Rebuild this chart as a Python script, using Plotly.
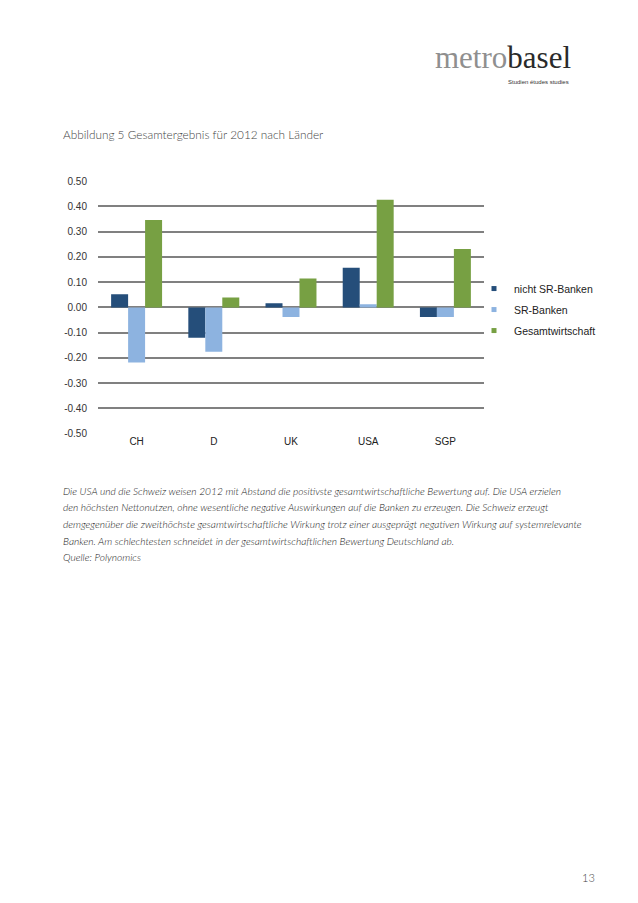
import plotly.graph_objects as go

categories = ["CH", "D", "UK", "USA", "SGP"]
nicht_sr = [0.052, -0.120, 0.017, 0.157, -0.038]
sr_banken = [-0.218, -0.175, -0.038, 0.013, -0.038]
gesamt = [0.346, 0.039, 0.114, 0.426, 0.231]
series_names = ["nicht SR-Banken", "SR-Banken", "Gesamtwirtschaft"]
colors = ["#254e7a", "#8db3e0", "#77a043"]
y_ticks = [0.5, 0.4, 0.3, 0.2, 0.1, 0.0, -0.1, -0.2, -0.3, -0.4, -0.5]

OFF = 8  # default body margin of the html page
W, H = 638 - OFF, 903 - OFF
def px(x):
    return (x - OFF) / W
def py(y):
    return 1 - (y - OFF) / H

fig = go.Figure()
for name, vals, c in zip(series_names, [nicht_sr, sr_banken, gesamt], colors):
    fig.add_trace(go.Bar(x=categories, y=vals, name=name, marker_color=c,
                         marker_line_width=0, showlegend=False))
# legend entries with small square symbols
for i, (name, c) in enumerate(zip(series_names, colors)):
    fig.add_trace(go.Scatter(x=[None], y=[None], mode="markers", name=name,
                             legendgroup=f"g{i}",
                             marker=dict(symbol="square", size=5, color=c)))

grid = "#808080"
fig.update_layout(
    width=W, height=H,
    margin=dict(l=0, r=0, t=0, b=0),
    paper_bgcolor="white", plot_bgcolor="white",
    barmode="group", bargap=0.34, bargroupgap=0,
    font=dict(family="Liberation Sans, Arial", size=10, color="#333333"),
    xaxis=dict(domain=[px(98), px(484)], showgrid=False, showline=False,
               zeroline=False, ticks="", tickfont=dict(size=10, color="#222222")),
    yaxis=dict(domain=[py(433.5), py(178)], range=[-0.5, 0.5],
               tickvals=y_ticks, ticktext=[f"{v:.2f}" for v in y_ticks],
               showgrid=True, gridcolor=grid, gridwidth=1.8,
               zeroline=True, zerolinecolor=grid, zerolinewidth=1.8,
               showline=False, ticks="", ticklabelstandoff=10,
               tickfont=dict(size=10, color="#333333")),
    legend=dict(x=px(474), y=py(272), xanchor="left", yanchor="top",
                font=dict(family="Liberation Sans, Arial", size=10.5, color="#222222"),
                tracegroupgap=2, itemwidth=30, bgcolor="rgba(0,0,0,0)"),
)

ann = []
# logo
ann.append(dict(x=px(573), y=py(73), xref="paper", yref="paper", xanchor="right", yanchor="bottom",
                text="<span style='color:#8f8f8f'>metro</span><span style='color:#2a2a2a'>basel</span>",
                showarrow=False, font=dict(family="Liberation Serif", size=31)))
ann.append(dict(x=px(571), y=py(78), xref="paper", yref="paper", xanchor="right", yanchor="middle",
                text="Studien études studies", showarrow=False,
                font=dict(family="Liberation Sans", size=6, color="#333333")))
# title
ann.append(dict(x=px(61), y=py(131), xref="paper", yref="paper", xanchor="left", yanchor="middle",
                text="Abbildung 5 Gesamtergebnis für 2012 nach Länder", showarrow=False,
                font=dict(family="Lato", size=11.8, color="#444444", weight=300)))
caption = [
    "Die USA und die Schweiz weisen 2012 mit Abstand die positivste gesamtwirtschaftliche Bewertung auf. Die USA erzielen",
    "den höchsten Nettonutzen, ohne wesentliche negative Auswirkungen auf die Banken zu erzeugen. Die Schweiz erzeugt",
    "demgegenüber die zweithöchste gesamtwirtschaftliche Wirkung trotz einer ausgeprägt negativen Wirkung auf systemrelevante",
    "Banken. Am schlechtesten schneidet in der gesamtwirtschaftlichen Bewertung Deutschland ab.",
    "Quelle: Polynomics",
]
cap_y = [491, 508, 525, 541.5, 558]
for t, yy in zip(caption, cap_y):
    ann.append(dict(x=px(61), y=py(yy), xref="paper", yref="paper", xanchor="left", yanchor="middle",
                    text=f"<i>{t}</i>", showarrow=False,
                    font=dict(family="Lato", size=10.2, color="#222222", weight=300)))
ann.append(dict(x=px(597), y=py(882), xref="paper", yref="paper", xanchor="right", yanchor="middle",
                text="13", showarrow=False, font=dict(family="Lato", size=11, color="#444444", weight=300)))
fig.update_layout(annotations=ann)

fig.write_html("out.html")
